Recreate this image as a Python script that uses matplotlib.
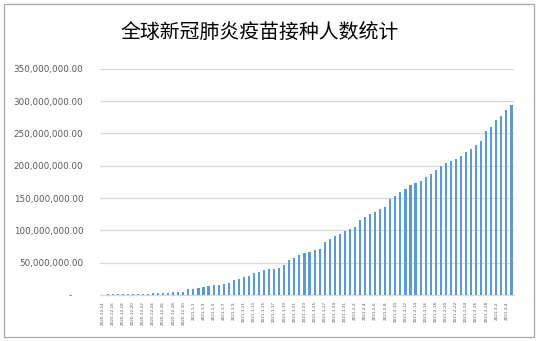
import datetime as dt

import matplotlib.pyplot as plt
from matplotlib.patches import Rectangle
from matplotlib.ticker import FuncFormatter

plt.rcParams['font.family'] = ['Noto Sans CJK SC', 'DejaVu Sans']

title = "全球新冠肺炎疫苗接种人数统计"

# daily cumulative doses, 2020-12-14 .. 2021-3-5 (millions)
start = dt.date(2020, 12, 14)
doses_m = [
    0.0, 1.0, 1.1, 1.1, 1.2, 1.2, 1.3, 1.3, 1.4, 1.4,
    2.6, 2.7, 2.8, 2.9, 4.2, 4.4, 4.6, 8.7, 9.2, 10.7,
    12.2, 13.8, 15.0, 15.3, 16.8, 18.4, 23.0, 24.5, 27.6, 29.0,
    33.7, 35.2, 38.3, 39.8, 40.0, 41.3, 45.9, 53.6, 56.6, 61.2,
    64.3, 65.8, 68.9, 71.9, 82.7, 87.2, 91.8, 94.9, 99.5, 102.6,
    105.6, 116.3, 120.9, 125.5, 128.6, 133.2, 136.2, 148.5, 153.0, 159.2,
    163.8, 169.9, 173.0, 176.0, 182.1, 186.7, 192.9, 199.0, 203.6, 206.6,
    209.7, 214.3, 220.4, 226.5, 232.7, 238.8, 254.1, 260.2, 270.9, 277.0,
    286.2, 293.9,
]
days = [start + dt.timedelta(days=i) for i in range(len(doses_m))]
date_labels = [f"{d.year}-{d.month}-{d.day}" for d in days]
doses = [v * 1e6 for v in doses_m]

fig = plt.figure(figsize=(5.38, 3.41), dpi=100)
ax = fig.add_axes([100 / 538, 46 / 341, 414 / 538, 226.3 / 341])

x = list(range(len(doses)))
ax.bar(x, doses, width=0.42, color="#5B9BD5", zorder=3)

ax.set_xlim(-0.5, len(doses) - 0.5)
ax.set_ylim(0, 350e6)
ax.set_yticks([i * 50e6 for i in range(8)])


def money(v, pos):
    if v == 0:
        return "-    "
    return f"{v:,.2f}"


ax.yaxis.set_major_formatter(FuncFormatter(money))
ax.set_xticks(x[::2])
ax.set_xticklabels(date_labels[::2], rotation=90, fontsize=3,
                   color="#595959", family="DejaVu Sans")
ax.tick_params(axis="x", length=0, pad=4.5)
ax.tick_params(axis="y", length=0, pad=12, labelsize=6.3, labelcolor="#595959")
for lab in ax.get_yticklabels():
    lab.set_family("DejaVu Sans")

ax.grid(axis="y", color="#D9D9D9", linewidth=0.9, zorder=0)
for side in ["top", "right", "left"]:
    ax.spines[side].set_visible(False)
ax.spines["bottom"].set_color("#D9D9D9")
ax.spines["bottom"].set_linewidth(0.9)

fig.text(260 / 538, 308 / 341, title, ha="center", va="center",
         fontsize=14.3, color="black", weight="medium")

# chart frame
fig.patches.append(Rectangle((4 / 538, 4 / 341), 530 / 538, 333 / 341,
                             transform=fig.transFigure, fill=False,
                             edgecolor="#A6A6A6", linewidth=0.9))

fig.savefig("out.png", dpi=100)
